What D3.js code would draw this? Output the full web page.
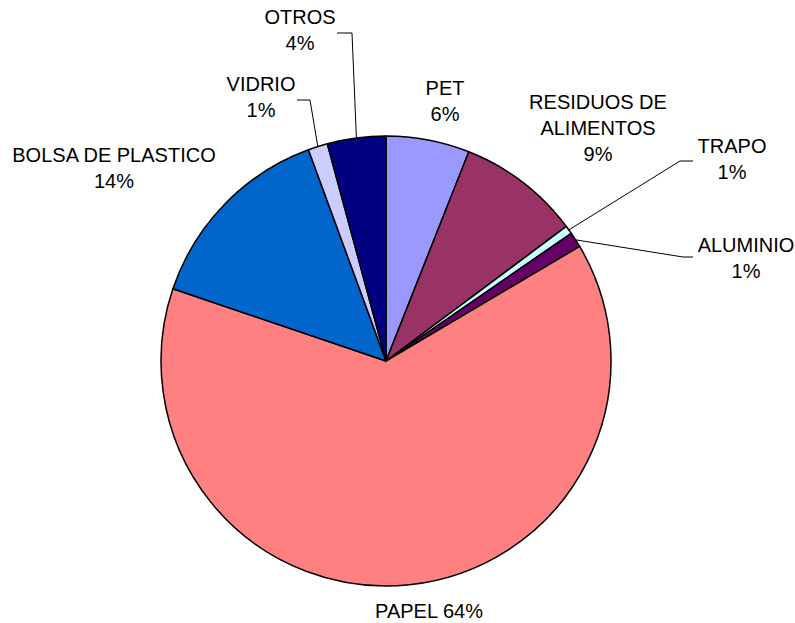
<!DOCTYPE html>
<html lang="es">
<head>
<meta charset="UTF-8">
<script src="https://d3js.org/d3.v7.min.js"></script>
<style>
  body { margin: 0; background: #fff; }
  svg text { font-family: "Liberation Sans", Arial, sans-serif; font-size: 20px; fill: #000; }
</style>
</head>
<body>
<svg width="795" height="623" id="chart"></svg>
<script>
// data (percent of total)
const categories = ["PET", "RESIDUOS DE ALIMENTOS", "TRAPO", "ALUMINIO", "PAPEL", "BOLSA DE PLASTICO", "VIDRIO", "OTROS"];
const values = [6.0, 8.8, 0.6, 1.1, 63.7, 14.2, 1.4, 4.2];
const colors = ["#9999FF", "#993366", "#CCFFFF", "#660066", "#FF8080", "#0066CC", "#CCCCFF", "#000080"];

// label text lines ({p} = percent)
const labelLines = [
  ["PET", "{p}"],
  ["RESIDUOS DE", "ALIMENTOS", "{p}"],
  ["TRAPO", "{p}"],
  ["ALUMINIO", "{p}"],
  ["PAPEL {p}"],
  ["BOLSA DE PLASTICO", "{p}"],
  ["VIDRIO", "{p}"],
  ["OTROS", "{p}"]
];

const svg = d3.select("#chart");
const cx = 386, cy = 361, r = 225;

const total = d3.sum(values);
const pie = d3.pie().sort(null).value(d => d)(values);
const arc = d3.arc().innerRadius(0).outerRadius(r);

const g = svg.append("g").attr("transform", `translate(${cx},${cy})`);

g.selectAll("path")
  .data(pie)
  .enter().append("path")
  .attr("d", arc)
  .attr("fill", (d, i) => colors[i])
  .attr("stroke", "#000")
  .attr("stroke-width", 1.5)
  .attr("stroke-linejoin", "round");

// label layout: text centre x, first baseline, and leader elbow/end points (null = no leader)
const labelPos = [
  { x: 445, y: 95, leader: null },
  { x: 598, y: 109, leader: null },
  { x: 732, y: 153, leader: [[680, 161], [693, 161]] },
  { x: 746, y: 252, leader: [[683, 257], [693, 257]] },
  { x: 429, y: 618, leader: null },
  { x: 114, y: 162, leader: null },
  { x: 261, y: 91, leader: [[310, 100], [297, 100]] },
  { x: 300, y: 24, leader: [[352, 33], [337, 33]] }
];

const lineH = 26;

pie.forEach((d, i) => {
  const pct = Math.round(values[i] / total * 100) + "%";
  const pos = labelPos[i];

  if (pos.leader) {
    const mid = (d.startAngle + d.endAngle) / 2;
    const start = [cx + r * Math.sin(mid), cy - r * Math.cos(mid)];
    const pts = [start].concat(pos.leader);
    svg.append("path")
      .attr("d", d3.line()(pts))
      .attr("fill", "none")
      .attr("stroke", "#000")
      .attr("stroke-width", 1);
  }

  const t = svg.append("text")
    .attr("text-anchor", "middle")
    .attr("x", pos.x)
    .attr("y", pos.y);

  labelLines[i].forEach((ln, k) => {
    t.append("tspan")
      .attr("x", pos.x)
      .attr("y", pos.y + k * lineH)
      .text(ln.replace("{p}", pct));
  });
});
</script>
</body>
</html>
